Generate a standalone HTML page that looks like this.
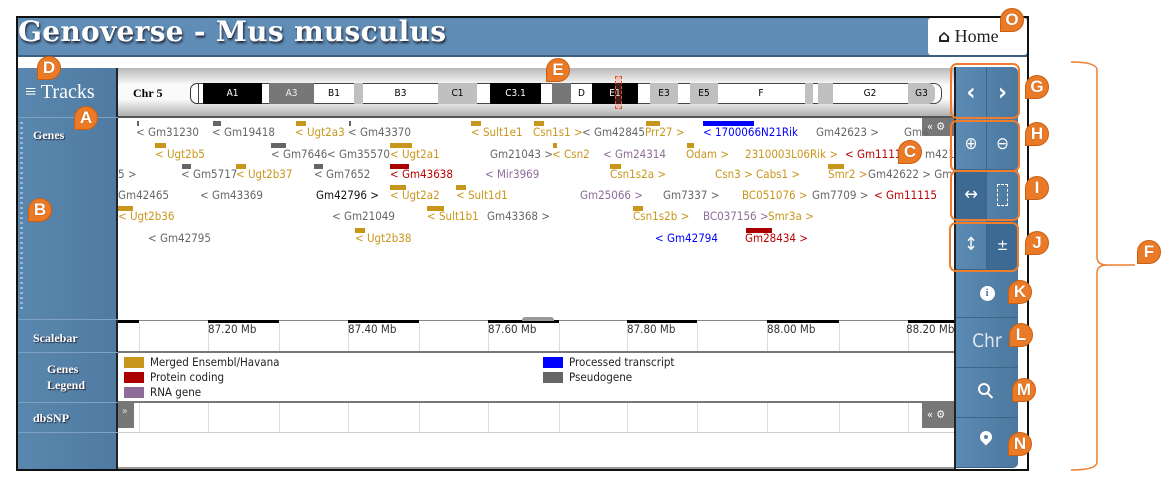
<!DOCTYPE html>
<html><head><meta charset="utf-8">
<style>
*{margin:0;padding:0;box-sizing:border-box}
body{width:1171px;height:491px;background:#fff;position:relative;overflow:hidden;font-family:"DejaVu Sans Condensed","DejaVu Sans","Liberation Sans",sans-serif}
.a{position:absolute}
#frame{left:16px;top:16px;width:1013px;height:455px;border:2px solid #111;background:#fff}
#hdr{left:18px;top:18px;width:1009px;height:39px;background:#5f8db5;border-bottom:2px solid #3d5f80}
#title{left:18px;top:15px;font:bold 28px "DejaVu Serif","Liberation Serif",serif;color:#fff;text-shadow:1px 2px 2px #223;white-space:nowrap;letter-spacing:0.3px}
#home{left:928px;top:18px;width:99px;height:37px;background:#fff;border-radius:3px;font:18px "Liberation Serif",serif;color:#222;padding:8px 0 0 10px}
#side{left:18px;top:68px;width:100px;height:401px;background:linear-gradient(90deg,#5a87ae,#4f7ba2);border-right:2px solid #222}
.sl{position:absolute;left:0;width:100px;border-bottom:1px solid #7fa2c2;color:#fff;font:bold 12px "Liberation Serif","DejaVu Serif",serif;text-shadow:1px 1px 1px #223}
.g{position:absolute;font-size:11.5px;white-space:nowrap;line-height:12px}
.bar{position:absolute;height:5px}
.y{color:#c9961c}.yb{background:#c9961c}
.k{color:#666}.kb{background:#666}
.r{color:#b00}.rb{background:#a00}
.b{color:#00f}.bb{background:#00f}
.p{color:#8e6c98}.pb{background:#8e6c98}
.band{position:absolute;top:83px;height:21px;font-size:10px;text-align:center;line-height:21px}
.badge{position:absolute;width:24px;height:24px;background:#ea7a26;border:1.5px solid #c85f12;border-radius:50% 50% 50% 0;color:#fff;font:bold 17px "Liberation Sans",sans-serif;text-align:center;line-height:22px;text-shadow:0 0 1px #a04a00}
.rp{position:absolute;left:956px;width:62px;background:linear-gradient(90deg,#5b8ab2,#4b789f);border-bottom:1px solid #3d6489;color:#fff;text-align:center}
.half{position:absolute;top:0;width:31px;height:100%;display:flex;align-items:center;justify-content:center;color:#fff}
.ob{position:absolute;border:2px solid #ee7d2e;border-radius:7px}
.tick{position:absolute;width:1px;background:#ddd}
</style></head><body>
<div class="a" id="frame"></div>
<div class="a" id="hdr"></div>
<div class="a" id="title">Genoverse - Mus musculus</div>
<div class="a" id="home"><b style="font-family:'DejaVu Sans';font-size:17px">&#8962;</b> Home</div>
<div class="a" id="side">
 <div class="sl" style="top:0;height:50px;font:300 20px 'Liberation Serif',serif;padding:13px 0 0 7px;text-shadow:none">&#8801; Tracks</div>
 <div class="sl" style="top:50px;height:202px;padding:10px 0 0 15px">Genes</div>
 <div class="sl" style="top:252px;height:33px;padding:11px 0 0 15px">Scalebar</div>
 <div class="sl" style="top:285px;height:50px;padding:8px 0 0 29px;line-height:16px">Genes<br>Legend</div>
 <div class="sl" style="top:335px;height:30px;padding:8px 0 0 15px">dbSNP</div>
</div>
<div class="a" style="left:20px;top:122px;width:3px;height:190px;background:repeating-linear-gradient(#9bb8d2 0 2px,transparent 2px 5px)"></div>

<!-- chr bar -->
<div class="a" style="left:118px;top:68px;width:838px;height:50px;background:linear-gradient(#b8b8b8,#fafafa 35%,#fafafa 65%,#b0b0b0);border-bottom:2px solid #555"></div>
<div class="a" style="left:133px;top:86px;font:bold 12px 'Liberation Serif',serif">Chr 5</div>
<div class="a" style="left:190px;top:83px;width:14px;height:21px;border:1px solid #333;border-radius:7px 0 0 7px;background:#fff"></div>
<div class="a" style="left:198px;top:83px;width:744px;height:21px;border:1.5px solid #444;border-radius:0 8px 8px 0;background:#fff"></div>
<div class="band" style="left:203px;width:59px;background:#000;color:#fff">A1</div>
<div class="band" style="left:269px;width:45px;background:#777;color:#eee">A3</div>
<div class="band" style="left:314px;width:40px">B1</div>
<div class="band" style="left:354px;width:9px;background:#c0c0c0"></div>
<div class="band" style="left:363px;width:75px">B3</div>
<div class="band" style="left:438px;width:39px;background:#c0c0c0">C1</div>
<div class="band" style="left:490px;width:51px;background:#000;color:#fff">C3.1</div>
<div class="band" style="left:552px;width:19px;background:#777"></div>
<div class="band" style="left:571px;width:21px">D</div>
<div class="band" style="left:592px;width:46px;background:#000;color:#fff">E1</div>
<div class="band" style="left:650px;width:28px;background:#c0c0c0">E3</div>
<div class="band" style="left:690px;width:28px;background:#c0c0c0">E5</div>
<div class="band" style="left:718px;width:86px">F</div>
<div class="band" style="left:805px;width:8px;background:#c0c0c0"></div>
<div class="band" style="left:818px;width:15px;background:#c0c0c0"></div>
<div class="band" style="left:833px;width:74px">G2</div>
<div class="band" style="left:908px;width:27px;background:#c0c0c0;border-radius:0 7px 7px 0">G3</div>
<div class="a" style="left:615px;top:76px;width:7px;height:33px;border:1.5px dashed #e05030;background:rgba(255,120,80,.25)"></div>

<!-- genes -->
<div class="a" style="left:922px;top:118px;width:34px;height:18px;background:#777;color:#fff;font-size:11px;padding:2px 0 0 5px">&laquo; &#9881;</div>
<div class="bar kb" style="left:137px;top:121px;width:2px"></div><div class="g k" style="left:136px;top:126px">&lt; Gm31230</div>
<div class="bar kb" style="left:213px;top:121px;width:8px"></div><div class="g k" style="left:212px;top:126px">&lt; Gm19418</div>
<div class="bar yb" style="left:296px;top:121px;width:10px"></div><div class="g y" style="left:295px;top:126px">&lt; Ugt2a3</div>
<div class="bar kb" style="left:349px;top:121px;width:2px"></div><div class="g k" style="left:348px;top:126px">&lt; Gm43370</div>
<div class="bar yb" style="left:471px;top:121px;width:10px"></div><div class="g y" style="left:471px;top:126px">&lt; Sult1e1</div>
<div class="bar yb" style="left:534px;top:121px;width:10px"></div><div class="g y" style="left:533px;top:126px">Csn1s1 &gt;</div>
<div class="g k" style="left:582px;top:126px">&lt; Gm42845</div>
<div class="bar yb" style="left:646px;top:121px;width:14px"></div><div class="g y" style="left:645px;top:126px">Prr27 &gt;</div>
<div class="bar bb" style="left:703px;top:121px;width:51px"></div><div class="g b" style="left:703px;top:126px">&lt; 1700066N21Rik</div>
<div class="g k" style="left:816px;top:126px">Gm42623 &gt;</div>
<div class="g k" style="left:904px;top:126px">Gm4</div>

<div class="bar yb" style="left:155px;top:143px;width:11px"></div><div class="g y" style="left:155px;top:148px">&lt; Ugt2b5</div>
<div class="bar kb" style="left:271px;top:143px;width:15px"></div><div class="g k" style="left:271px;top:148px">&lt; Gm7646</div>
<div class="g k" style="left:327px;top:148px">&lt; Gm35570</div>
<div class="bar yb" style="left:390px;top:143px;width:22px"></div><div class="g y" style="left:390px;top:148px">&lt; Ugt2a1</div>
<div class="g k" style="left:490px;top:148px">Gm21043 &gt;</div>
<div class="bar yb" style="left:553px;top:143px;width:4px"></div><div class="g y" style="left:552px;top:148px">&lt; Csn2</div>
<div class="g p" style="left:603px;top:148px">&lt; Gm24314</div>
<div class="bar yb" style="left:687px;top:143px;width:7px"></div><div class="g y" style="left:686px;top:148px">Odam &gt;</div>
<div class="g y" style="left:745px;top:148px">2310003L06Rik &gt;</div>
<div class="g r" style="left:845px;top:148px">&lt; Gm1111</div>
<div class="g k" style="left:925px;top:148px">m421</div>

<div class="g k" style="left:118px;top:168px">5 &gt;</div>
<div class="bar kb" style="left:182px;top:164px;width:9px"></div><div class="g k" style="left:181px;top:168px">&lt; Gm5717</div>
<div class="bar yb" style="left:236px;top:164px;width:10px"></div><div class="g y" style="left:236px;top:168px">&lt; Ugt2b37</div>
<div class="bar kb" style="left:314px;top:164px;width:9px"></div><div class="g k" style="left:314px;top:168px">&lt; Gm7652</div>
<div class="bar rb" style="left:390px;top:164px;width:19px"></div><div class="g r" style="left:390px;top:168px">&lt; Gm43638</div>
<div class="g p" style="left:485px;top:168px">&lt; Mir3969</div>
<div class="bar yb" style="left:610px;top:164px;width:11px"></div><div class="g y" style="left:610px;top:168px">Csn1s2a &gt;</div>
<div class="g y" style="left:715px;top:168px">Csn3 &gt; Cabs1 &gt;</div>
<div class="bar yb" style="left:828px;top:164px;width:16px"></div><div class="g y" style="left:828px;top:168px">Smr2 &gt;</div>
<div class="g k" style="left:868px;top:168px">Gm42622 &gt; Gm7</div>

<div class="g k" style="left:118px;top:189px">Gm42465</div>
<div class="g k" style="left:200px;top:189px">&lt; Gm43369</div>
<div class="g" style="left:316px;top:189px;color:#111">Gm42796 &gt;</div>
<div class="bar yb" style="left:390px;top:185px;width:16px"></div><div class="g y" style="left:390px;top:189px">&lt; Ugt2a2</div>
<div class="bar yb" style="left:456px;top:185px;width:10px"></div><div class="g y" style="left:456px;top:189px">&lt; Sult1d1</div>
<div class="g p" style="left:580px;top:189px">Gm25066 &gt;</div>
<div class="g k" style="left:663px;top:189px">Gm7337 &gt;</div>
<div class="g y" style="left:742px;top:189px">BC051076 &gt;</div>
<div class="g k" style="left:812px;top:189px">Gm7709 &gt;</div>
<div class="g r" style="left:874px;top:189px">&lt; Gm11115</div>

<div class="bar yb" style="left:118px;top:206px;width:15px"></div><div class="g y" style="left:118px;top:210px">&lt; Ugt2b36</div>
<div class="g k" style="left:332px;top:210px">&lt; Gm21049</div>
<div class="bar yb" style="left:427px;top:206px;width:17px"></div><div class="g y" style="left:427px;top:210px">&lt; Sult1b1</div>
<div class="g k" style="left:487px;top:210px">Gm43368 &gt;</div>
<div class="bar yb" style="left:633px;top:206px;width:10px"></div><div class="g y" style="left:633px;top:210px">Csn1s2b &gt;</div>
<div class="g p" style="left:703px;top:210px">BC037156 &gt;</div>
<div class="g y" style="left:768px;top:210px">Smr3a &gt;</div>

<div class="g k" style="left:148px;top:232px">&lt; Gm42795</div>
<div class="bar yb" style="left:355px;top:228px;width:10px"></div><div class="g y" style="left:355px;top:232px">&lt; Ugt2b38</div>
<div class="g b" style="left:655px;top:232px">&lt; Gm42794</div>
<div class="bar rb" style="left:746px;top:228px;width:26px"></div><div class="g r" style="left:745px;top:232px">Gm28434 &gt;</div>

<!-- scalebar -->
<div class="a" style="left:118px;top:320px;width:838px;height:1px;background:#888"></div>
<div class="a" style="left:118px;top:320px;width:21px;height:3px;background:#000"></div>
<div class="a" style="left:208px;top:320px;width:71px;height:3px;background:#000"></div>
<div class="a" style="left:348px;top:320px;width:71px;height:3px;background:#000"></div>
<div class="a" style="left:488px;top:320px;width:71px;height:3px;background:#000"></div>
<div class="a" style="left:627px;top:320px;width:70px;height:3px;background:#000"></div>
<div class="a" style="left:767px;top:320px;width:72px;height:3px;background:#000"></div>
<div class="a" style="left:908px;top:320px;width:48px;height:3px;background:#000"></div>
<div class="a" style="left:522px;top:317px;width:32px;height:4px;background:#999;border-radius:3px 3px 0 0"></div>
<div class="tick" style="left:139px;top:323px;height:28px"></div><div class="tick" style="left:208px;top:323px;height:28px"></div>
<div class="tick" style="left:279px;top:323px;height:28px"></div><div class="tick" style="left:348px;top:323px;height:28px"></div>
<div class="tick" style="left:419px;top:323px;height:28px"></div><div class="tick" style="left:488px;top:323px;height:28px"></div>
<div class="tick" style="left:559px;top:323px;height:28px"></div><div class="tick" style="left:627px;top:323px;height:28px"></div>
<div class="tick" style="left:697px;top:323px;height:28px"></div><div class="tick" style="left:767px;top:323px;height:28px"></div>
<div class="tick" style="left:839px;top:323px;height:28px"></div><div class="tick" style="left:908px;top:323px;height:28px"></div>
<div class="g" style="left:208px;top:323px;color:#333">87.20 Mb</div>
<div class="g" style="left:348px;top:323px;color:#333">87.40 Mb</div>
<div class="g" style="left:488px;top:323px;color:#333">87.60 Mb</div>
<div class="g" style="left:627px;top:323px;color:#333">87.80 Mb</div>
<div class="g" style="left:767px;top:323px;color:#333">88.00 Mb</div>
<div class="g" style="left:906px;top:323px;color:#333">88.20 Mb</div>
<div class="a" style="left:118px;top:351px;width:838px;height:2px;background:#777"></div>
<!-- legend -->
<div class="a" style="left:124px;top:357px;width:20px;height:11px;background:#c9961c"></div><div class="g" style="left:150px;top:356px;color:#222">Merged Ensembl/Havana</div>
<div class="a" style="left:124px;top:372px;width:20px;height:11px;background:#a00"></div><div class="g" style="left:150px;top:371px;color:#222">Protein coding</div>
<div class="a" style="left:124px;top:387px;width:20px;height:11px;background:#8e6c98"></div><div class="g" style="left:150px;top:386px;color:#222">RNA gene</div>
<div class="a" style="left:543px;top:357px;width:20px;height:11px;background:#00f"></div><div class="g" style="left:569px;top:356px;color:#222">Processed transcript</div>
<div class="a" style="left:543px;top:372px;width:20px;height:11px;background:#666"></div><div class="g" style="left:569px;top:371px;color:#222">Pseudogene</div>
<div class="a" style="left:118px;top:401px;width:838px;height:2px;background:#777"></div>
<!-- dbsnp -->
<div class="tick" style="left:139px;top:403px;height:29px"></div><div class="tick" style="left:208px;top:403px;height:29px"></div>
<div class="tick" style="left:279px;top:403px;height:29px"></div><div class="tick" style="left:348px;top:403px;height:29px"></div>
<div class="tick" style="left:419px;top:403px;height:29px"></div><div class="tick" style="left:488px;top:403px;height:29px"></div>
<div class="tick" style="left:559px;top:403px;height:29px"></div><div class="tick" style="left:627px;top:403px;height:29px"></div>
<div class="tick" style="left:697px;top:403px;height:29px"></div><div class="tick" style="left:767px;top:403px;height:29px"></div>
<div class="tick" style="left:839px;top:403px;height:29px"></div><div class="tick" style="left:908px;top:403px;height:29px"></div>
<div class="a" style="left:118px;top:403px;width:16px;height:25px;background:#777;color:#ddd;font-size:10px;padding:3px 0 0 4px">&raquo;</div>
<div class="a" style="left:922px;top:403px;width:34px;height:25px;background:#777;color:#fff;font-size:11px;padding:5px 0 0 5px">&laquo; &#9881;</div>
<div class="a" style="left:118px;top:432px;width:838px;height:1px;background:#ccc"></div>
<div class="a" style="left:118px;top:467px;width:838px;height:2px;background:#999"></div>

<!-- right panel -->
<div class="a" style="left:954px;top:67px;width:2px;height:402px;background:#222"></div>
<div class="rp" style="top:67px;height:51px;border-radius:0 5px 0 0"><div class="half" style="left:0;border-right:1px solid #3d6489;font-size:24px;font-weight:bold">&#8249;</div><div class="half" style="left:31px;font-size:24px;font-weight:bold">&#8250;</div></div>
<div class="rp" style="top:118px;height:52px"><div class="half" style="left:0;border-right:1px solid #3d6489;font-size:17px">&#8853;</div><div class="half" style="left:31px;font-size:17px">&#8854;</div></div>
<div class="rp" style="top:170px;height:50px"><div class="half" style="left:0;background:#3d6a93;border-right:1px solid #3d6489;font-size:18px">&#8596;</div><div class="half" style="left:31px"><span style="width:11px;height:22px;border:1px dashed #fff;display:block"></span></div></div>
<div class="rp" style="top:220px;height:50px"><div class="half" style="left:0;border-right:1px solid #3d6489;font-size:18px">&#8597;</div><div class="half" style="left:31px;background:#3d6a93;font-size:15px">&#177;</div></div>
<div class="rp" style="top:270px;height:48px;padding-top:14px;font-size:14px"><span style="display:inline-block;width:15px;height:15px;border-radius:50%;background:#fff;color:#4f7ba2;font:bold 11px 'Liberation Serif',serif;line-height:15px">i</span></div>
<div class="rp" style="top:318px;height:50px;padding-top:12px;font-size:19px;color:#dde6ef">Chr</div>
<div class="rp" style="top:368px;height:50px"></div>
<div class="rp" style="top:418px;height:50px;border-radius:0 0 5px 0"></div>
<div class="a" style="left:978px;top:383px;width:12px;height:12px;border:2px solid #fff;border-radius:50%"></div>
<div class="a" style="left:989px;top:392px;width:2px;height:7px;background:#fff;transform:rotate(-45deg)"></div>
<div class="a" style="left:980px;top:431px;width:12px;height:12px;background:#fff;border-radius:50% 50% 50% 0;transform:rotate(-45deg)"></div>
<div class="a" style="left:984px;top:435px;width:4px;height:4px;background:#5582aa;border-radius:50%"></div>

<!-- orange boxes -->
<div class="ob" style="left:950px;top:63px;width:70px;height:56px"></div>
<div class="ob" style="left:950px;top:120px;width:70px;height:52px"></div>
<div class="ob" style="left:950px;top:170px;width:70px;height:51px"></div>
<div class="ob" style="left:949px;top:222px;width:70px;height:50px"></div>

<!-- bracket F -->
<svg class="a" style="left:0;top:0" width="1171" height="491"><path d="M1071 62 Q1097 62 1097 70 L1097 257 Q1097 265 1107 265 L1135 265 M1107 265 Q1097 265 1097 273 L1097 462 Q1097 470 1071 470" fill="none" stroke="#ee7d2e" stroke-width="1.5"/></svg>

<!-- badges -->
<div class="badge" style="left:74px;top:106px">A</div>
<div class="badge" style="left:28px;top:198px">B</div>
<div class="badge" style="left:898px;top:140px">C</div>
<div class="badge" style="left:37px;top:56px">D</div>
<div class="badge" style="left:546px;top:58px">E</div>
<div class="badge" style="left:1137px;top:240px">F</div>
<div class="badge" style="left:1025px;top:75px">G</div>
<div class="badge" style="left:1025px;top:122px">H</div>
<div class="badge" style="left:1025px;top:176px">I</div>
<div class="badge" style="left:1025px;top:231px">J</div>
<div class="badge" style="left:1008px;top:280px">K</div>
<div class="badge" style="left:1009px;top:323px">L</div>
<div class="badge" style="left:1012px;top:378px">M</div>
<div class="badge" style="left:1008px;top:432px">N</div>
<div class="badge" style="left:1000px;top:8px">O</div>
</body></html>
